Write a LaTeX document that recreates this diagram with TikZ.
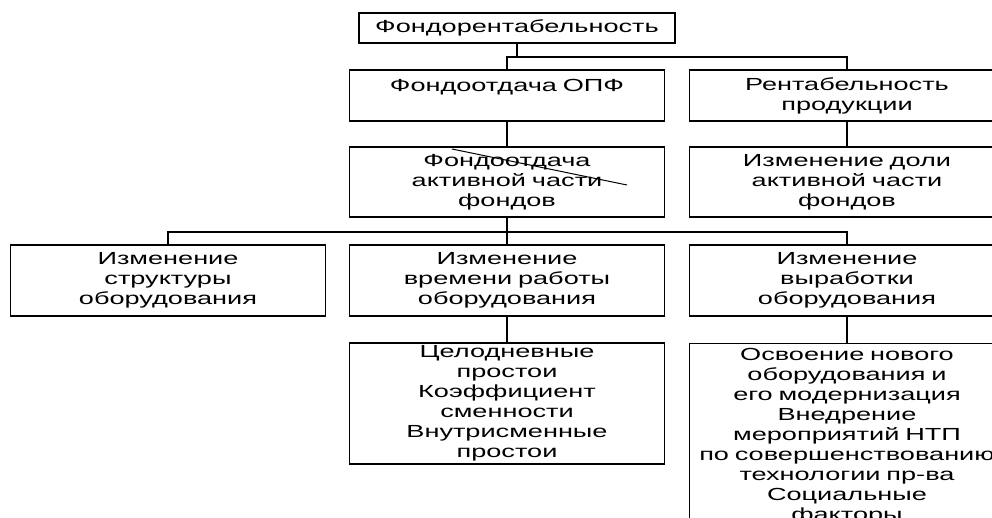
\documentclass[tikz,border=0pt]{standalone}
\usepackage{fontspec}
\setmainfont{Liberation Sans}[FakeStretch=1.55]
\usepackage{tikz}
\usetikzlibrary{positioning}

\begin{document}
\begin{tikzpicture}[x=1pt, y=-1pt,
  blok/.style={draw, line width=1.3pt, align=center, text width=309pt, inner xsep=3pt, inner ysep=1pt,
    font=\fontsize{17.5}{20}\selectfont},
  link/.style={line width=1.5pt}]
\useasboundingbox (0,0) rectangle (992,518);
\clip (0,0) rectangle (992,518);
% top level
\node[blok, text width=310pt, minimum height=30pt] (top) at (517,28) {Фондорентабельность};
\node[blok, minimum height=51pt] (opf) at (507,95.5) {Фондоотдача ОПФ\\~};
\node[blok, minimum height=51pt] (rent) at (847,95.5) {Рентабельность\\продукции};
% second level
\node[blok, minimum height=70pt] (fa) at (507,182) {Фондоотдача\\активной части\\фондов};
\node[blok, minimum height=70pt] (dolya) at (847,182) {Изменение доли\\активной части\\фондов};
% factors
\node[blok, minimum height=71pt] (struct) at (168,280.5) {Изменение\\структуры\\оборудования};
\node[blok, minimum height=71pt] (time) at (507,280.5) {Изменение\\времени работы\\оборудования};
\node[blok, minimum height=71pt] (vyr) at (847,280.5) {Изменение\\выработки\\оборудования};
% details
\node[blok, minimum height=121pt] (prostoi) at (507,403.5) {Целодневные\\простои\\Коэффициент\\сменности\\Внутрисменные\\простои};
\node[blok, anchor=north, minimum height=185pt] (osvoen) at (847,343) {Освоение нового\\оборудования и\\его модернизация\\Внедрение\\мероприятий НТП\\по совершенствованию\\технологии пр-ва\\Социальные\\факторы};
% connectors
\coordinate (bus1) at (517,57);
\coordinate (bus2) at (507,232);
\draw[link] (top.south) -- (bus1);
\draw[link] (opf.north) |- (bus1) -| (rent.north);
\draw[link] (opf) -- (fa);
\draw[link] (rent) -- (dolya);
\draw[link] (fa.south) -- (time.north);
\draw[link] (struct.north) |- (bus2) -| (vyr.north);
\draw[link] (time) -- (prostoi);
\draw[link] (vyr.south) -- (osvoen.north);
% stray stroke over the text
\draw[line width=1pt] (452,149) -- (627,185);
\end{tikzpicture}
\end{document}
